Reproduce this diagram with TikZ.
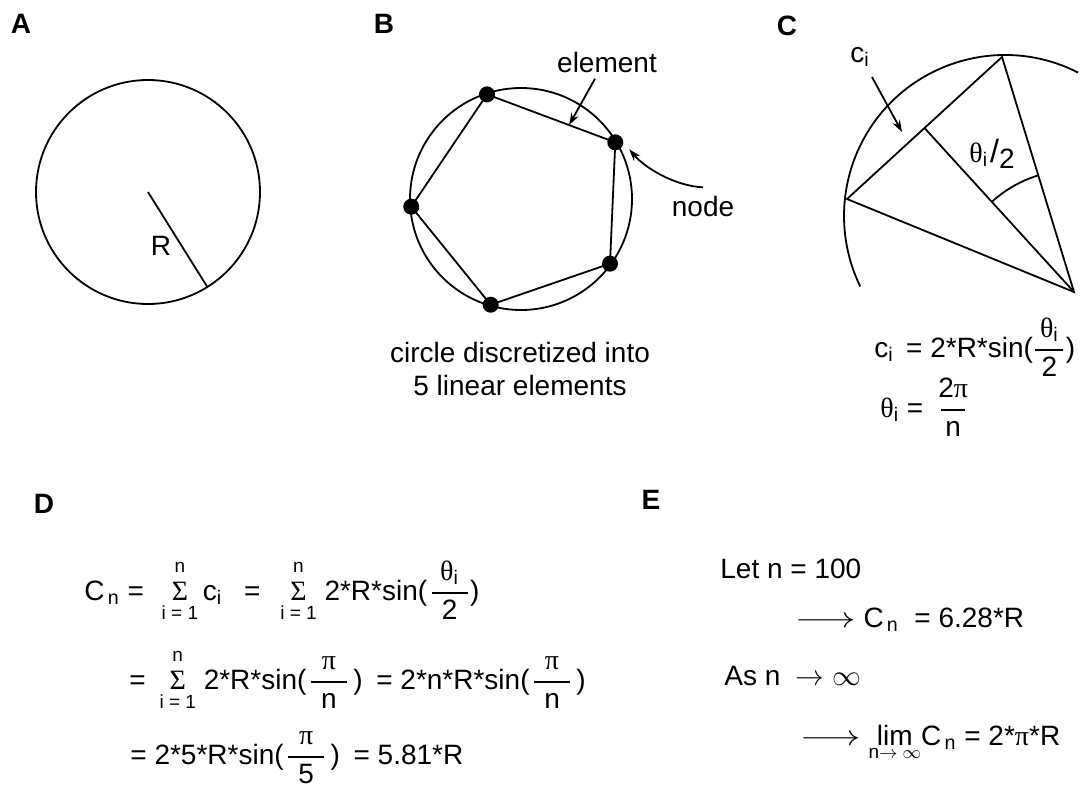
\documentclass[tikz,border=0pt]{standalone}
\usepackage{fontspec}
\setmainfont{Liberation Sans}
\newfontfamily\grk{Liberation Serif}
\usetikzlibrary{arrows.meta, calc}

\newcommand{\smallsz}{\fontsize{9.5}{10}\selectfont}
\newcommand{\frc}[3][18pt]{$\displaystyle{\hbox to #1{\hss#2\hss}\above 0.9pt\hbox to #1{\hss#3\hss}}$}
\newcommand{\sumi}{\leavevmode\setbox0\hbox{\smallsz i = 1}%
    \makebox[\wd0]{\grk Σ}\kern-\wd0
    \makebox[\wd0]{\raisebox{14pt}{\smallsz n}}\kern-\wd0
    \makebox[\wd0]{\raisebox{-9.5pt}{\smallsz i = 1}}}
\newcommand{\longarr}{\scalebox{1.3}[1]{$\longrightarrow$}}
\newcommand{\limn}{$\mathop{\hbox{lim}}\limits_{\hbox{\smallsz n$\to\infty$}}$}

\begin{document}
\begin{tikzpicture}[
    x=0.5pt, y=-0.5pt,
    geom/.style={line width=0.9pt},
    txt/.style={font=\fontsize{14}{16.5}\selectfont, inner sep=1pt},
    eqn/.style={txt, anchor=base west},
    panel/.style={font=\fontsize{14}{16}\selectfont\bfseries, inner sep=0pt},
    dot/.style={circle, fill=black, inner sep=0pt, minimum size=8pt},
    ptr/.style={-{Stealth[length=6pt, width=4pt]}, line width=0.9pt},
]
\useasboundingbox (0,0) rectangle (1092,793);

% Panel letters
\node[panel] (lblA) at (21,24) {A};
\node[panel] (lblB) at (384,24) {B};
\node[panel] (lblC) at (787,26) {C};
\node[panel] (lblD) at (44,504) {D};
\node[panel] (lblE) at (651,500) {E};

% A: circle and radius
\coordinate (cA) at (148,192);
\coordinate (rimA) at ($(cA)+(58:112)$);
\draw[geom] (cA) circle (112);
\draw[geom] (cA) -- (rimA);
\node[txt] (R) at (161,246) {R};

% B: circle discretized into elements
\coordinate (cB) at (521,199);
\draw[geom] (cB) circle (111);
\foreach \a [count=\i] in {-108,-31,36,106,176}
    \node[dot] (n\i) at ($(cB)+(\a:110)$) {};
\draw[geom] (n1.center) -- (n2.center) -- (n3.center) -- (n4.center) -- (n5.center) -- cycle;

\node[txt] (element) at (607,62) {element};
\coordinate (elemtip) at ($(n1)!0.64!(n2)$);
\draw[ptr] ([xshift=-6pt,yshift=-2pt]element.south) -- (elemtip);

\node[txt] (nodelbl) at (703,206) {node};
\coordinate (nodetip) at ($(n2)+(14,7)$);
\draw[ptr] ([yshift=3pt]nodelbl.north) .. controls (675,186) and (645,168) .. (nodetip);

\node[txt, align=center] (capB) at (520,369) {circle discretized into\\5 linear elements};

% C: one element as a chord
\coordinate (cC) at (1005,216);
\coordinate (ctop) at (1002,57);
\coordinate (cleft) at (847,199);
\coordinate (cO) at (1074,292);
\coordinate (cmid) at ($(cleft)!0.5!(ctop)$);
\draw[geom] ([shift={(-63:161)}]cC) arc[start angle=-63, end angle=-206, radius=161];
\draw[geom] (cleft) -- (ctop) -- (cO) -- cycle;
\draw[geom] (cO) -- (cmid);
\draw[geom] ([shift={(-132.4:122)}]cO) arc[start angle=-132.4, end angle=-107, radius=122];

\node[txt] (half) at (992,154) {{\grk θ}\textsubscript{i}\kern1pt\scalebox{1.15}{/}\raisebox{-3pt}{2}};
\node[txt] (ci) at (860,57) {c\textsubscript{i}};
\coordinate (citip) at (902,132);
\draw[ptr] ([xshift=6pt,yshift=-4pt]ci.south) -- (citip);

\node[eqn] (eqci) at (872,357) {c\textsubscript{i} \,= 2*R*sin(\frc[14pt]{{\grk θ}\textsubscript{i}}{2})};
\node[eqn] (eqth) at (878,417) {{\grk θ}\textsubscript{i} = \ \frc[12pt]{2{\grk π}}{n}};

% D: sum over the elements
\node[eqn] (eq1) at (82,600) {C\textsubscript{\,n} = \hspace{5pt}\sumi\,c\textsubscript{i}\hspace{11pt}= \hspace{6pt}\sumi\ 2*R*sin(\hspace{1pt}\frc{{\grk θ}\textsubscript{i}}{2})};
\node[eqn] (eq2) at (127,689) {= \hspace{3pt}\sumi\ 2*R*sin(\hspace{1pt}\frc{\grk π}{n}\hspace{2pt}) \hspace{3pt}= 2*n*R*sin(\hspace{1pt}\frc{\grk π}{n}\hspace{2pt})};
\node[eqn] (eq3) at (128,764) {= 2*5*R*sin(\hspace{1pt}\frc{\grk π}{5}\hspace{2pt}) \hspace{3pt}= 5.81*R};

% E: limit
\node[eqn] (letn) at (718,578) {Let n = 100};
\node[eqn] (res1) at (793,627) {\longarr\ C\textsubscript{\,n} \ = 6.28*R};
\node[eqn] (asn) at (722,685) {As n \ $\rightarrow\infty$};
\node[eqn] (res2) at (798,745) {\longarr\ \limn C\textsubscript{\,n} = 2*{\grk π}*R};

\end{tikzpicture}
\end{document}
